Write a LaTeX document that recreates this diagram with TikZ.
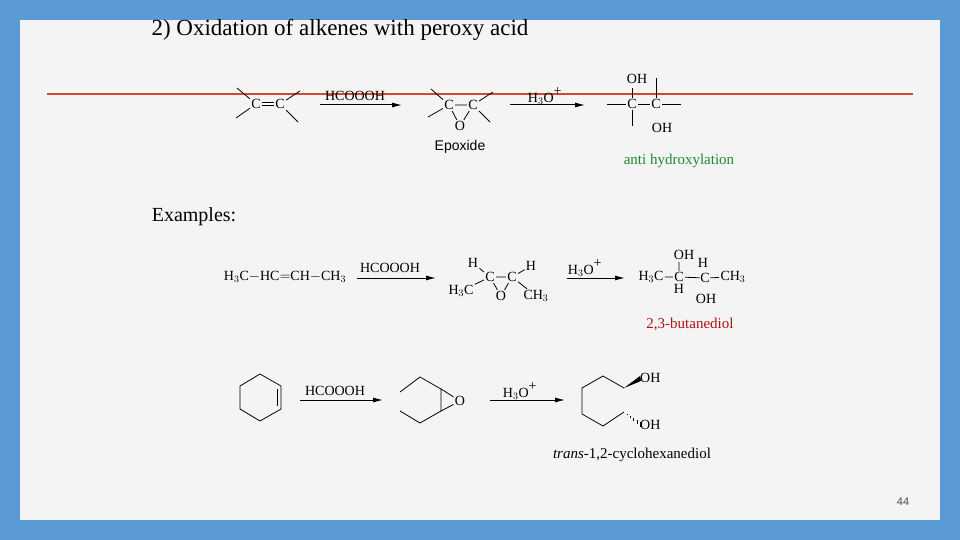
\documentclass[tikz,border=0pt]{standalone}
\usepackage{fontspec}
\setmainfont{Liberation Serif}
\newfontfamily\sansf{Liberation Sans}
\usetikzlibrary{arrows.meta}
\definecolor{bgblue}{HTML}{5B9BD5}
\definecolor{panel}{HTML}{F4F4F4}
\definecolor{redline}{HTML}{D24A2C}
\definecolor{grn}{HTML}{1E8A2E}
\definecolor{rd}{HTML}{B01010}
\tikzset{
 bond/.style={line width=0.8pt},
 rx/.style={line width=1pt,-{Latex[length=10pt,width=5pt]}},
 ch/.style={inner sep=1.2pt,font=\fontsize{14}{14}\selectfont},
 lab/.style={inner sep=0pt,font=\fontsize{14}{14}\selectfont},
}
\begin{document}
\begin{tikzpicture}[x=1pt,y=-1pt]
\fill[bgblue] (0,0) rectangle (960,540);
\fill[panel] (20,20) rectangle (940,520);
\useasboundingbox (0,0) rectangle (960,540);
\node[inner sep=0pt,font=\fontsize{23}{23}\selectfont] (title) at (340,30) {2) Oxidation of alkenes with peroxy acid};
\draw[redline,line width=2.5pt] (47,94) coordinate (r1) -- (913,94) coordinate (r2);
% top row
\node[ch] (a1) at (256,104) {C};
\node[ch] (a2) at (280,104) {C};
\draw[bond,double,double distance=2pt] (a1) -- (a2);
\draw[bond] (a1) -- (237,88) (a1) -- (236,118) (a2) -- (300,91) (a2) -- (298,122);
\coordinate (p1) at (320,105); \coordinate (p2) at (402,105);
\draw[rx] (p1) -- (p2);
\node[lab] (r1l) at (355,96) {HCOOOH};
\node[ch] (e1) at (449,105) {C};
\node[ch] (e2) at (473,105) {C};
\node[ch] (eo) at (460,126) {O};
\draw[bond] (e1) -- (e2) (e1) -- (eo) (e2) -- (eo);
\draw[bond] (e1) -- (431,89) (e1) -- (428,117) (e2) -- (493,92) (e2) -- (490,122);
\node[inner sep=0pt,font=\sansf\fontsize{14}{14}\selectfont] (epx) at (460,147) {Epoxide};
\coordinate (p3) at (510,105); \coordinate (p4) at (585,105);
\draw[rx] (p3) -- (p4);
\node[lab] (r2l) at (545,96) {H$_3$O$^{\raisebox{2pt}{+}}$};
\node[ch] (d1) at (632,104) {C};
\node[ch] (d2) at (656,104) {C};
\node[ch] (do1) at (637,79) {OH};
\node[ch] (do2) at (662,128) {OH};
\draw[bond] (d1) -- (d2) (d1) -- (607,104) (d2) -- (681,104) (d1) -- (632,126) (d2) -- (656,78) (d1) -- (632,88);
\node[inner sep=0pt,text=grn,font=\fontsize{15}{15}\selectfont] (anti) at (679,161) {anti hydroxylation};
\node[inner sep=0pt,font=\fontsize{20}{20}\selectfont] (ex) at (194,217) {Examples:};
% example 1
\node[ch] (s1) at (285,277) {H$_3$C$-$HC$=$CH$-$CH$_3$};
\coordinate (q1) at (357,278); \coordinate (q2) at (436,278);
\draw[rx] (q1) -- (q2);
\node[lab] (q1l) at (390,268) {HCOOOH};
\node[ch] (f1) at (490,277) {C};
\node[ch] (f2) at (512,277) {C};
\node[ch] (fo) at (501,296) {O};
\node[ch] (fh1) at (473,263) {H};
\node[ch] (fh2) at (531,266) {H};
\node[ch] (fm1) at (461,291) {H$_3$C};
\node[ch] (fm2) at (536,296) {CH$_3$};
\draw[bond] (f1) -- (f2) (f1) -- (fo) (f2) -- (fo) (f1) -- (fh1) (f2) -- (fh2) (f1) -- (fm1) (f2) -- (fm2);
\coordinate (q3) at (567,278); \coordinate (q4) at (625,278);
\draw[rx] (q3) -- (q4);
\node[lab] (q3l) at (585,268) {H$_3$O$^{\raisebox{2pt}{+}}$};
\node[ch] (g0) at (651,277) {H$_3$C};
\node[ch] (g1) at (679,277) {C};
\node[ch,inner sep=0.5pt] (g2) at (705,278) {C};
\node[ch] (g3) at (733,277) {CH$_3$};
\node[ch] (go1) at (684,255) {OH};
\node[ch,inner sep=0.5pt] (gh1) at (703,263) {H};
\node[ch] (gh2) at (679,289) {H};
\node[ch] (go2) at (706,299) {OH};
\draw[bond] (g0) -- (g1) (g1) -- (g2) (g2) -- (g3) (g1) -- (679,262) (g1) -- (gh2);
\node[inner sep=0pt,text=rd,font=\fontsize{15}{15}\selectfont] (bd) at (690,324) {2,3-butanediol};
% example 2
\draw[bond] (260,374) -- (281,386) -- (281,409) -- (260,421) -- (240,409) -- (240,386) -- cycle;
\draw[bond] (277,389) -- (277,406);
\coordinate (t1) at (300,400); \coordinate (t2) at (383,400);
\draw[rx] (t1) -- (t2);
\node[lab] (t1l) at (335,391) {HCOOOH};
\node[ch] (ho) at (460,401) {O};
\draw[bond] (400,392) -- (420,377) -- (441,389) -- (441,411) -- (420,423) -- (400,411);
\draw[bond] (441,389) -- (ho) (441,411) -- (ho);
\coordinate (t3) at (490,400); \coordinate (t4) at (565,400);
\draw[rx] (t3) -- (t4);
\node[lab] (t3l) at (520,391) {H$_3$O$^{\raisebox{2pt}{+}}$};
\node[ch,anchor=west,inner sep=0pt] (oh1) at (640,378) {OH};
\node[ch,anchor=west,inner sep=0pt] (oh2) at (640,425) {OH};
\draw[bond] (624,388) -- (603,376) -- (582,388) -- (582,414) -- (603,426) -- (624,412);
\fill (624,388) -- (640,376) -- (641,381) -- cycle;
\foreach \i in {0.2,0.4,0.6,0.8,1.0}
  \draw[line width=0.6pt] ({624+16*\i},{412+12*\i-2.5*\i}) -- ({624+16*\i},{412+12*\i+2.5*\i});
\node[inner sep=0pt,font=\fontsize{15}{15}\selectfont] (tc) at (632,455) {\textit{trans}-1,2-cyclohexanediol};
\node[inner sep=0pt,font=\sansf\fontsize{11}{11}\selectfont,text=black!70] (pg) at (903,502) {44};
\end{tikzpicture}
\end{document}
